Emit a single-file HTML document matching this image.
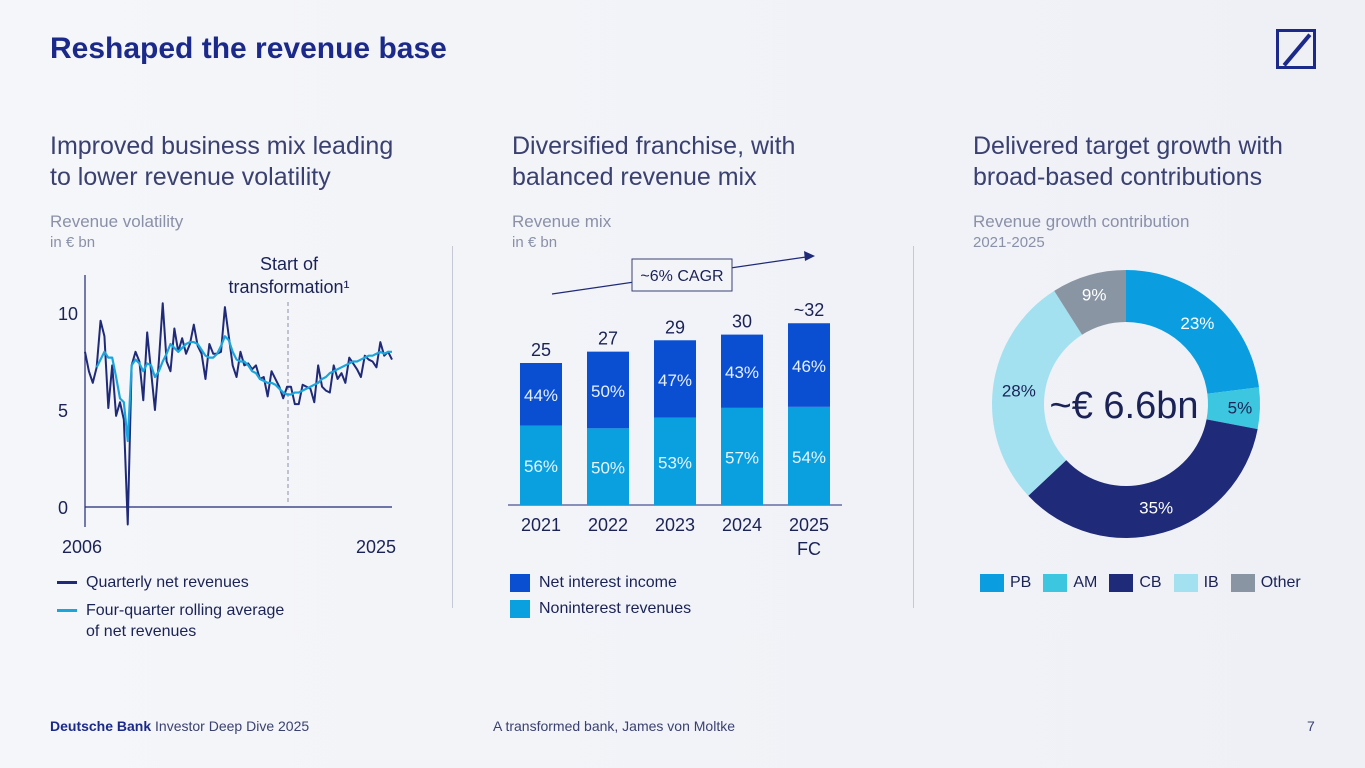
<!DOCTYPE html>
<html><head><meta charset="utf-8"><style>
*{margin:0;padding:0;box-sizing:border-box}
body{width:1365px;height:768px;overflow:hidden;background:linear-gradient(90deg,#f5f6f9,#eef0f6);font-family:"Liberation Sans",sans-serif;position:relative;color:#1b2356}
.a{position:absolute;white-space:nowrap}
.h2{font-size:25px;color:#3a4170;line-height:31px;font-weight:normal}
.sub{font-size:17px;color:#8a90a8;line-height:21px}
.sub small{font-size:15px;display:block}
.leg{font-size:16px;color:#1b2356}
</style></head><body>
<div class="a" style="left:50px;top:32px;font-size:30px;font-weight:bold;color:#1b2a8a">Reshaped the revenue base</div>
<div class="a" style="left:1276px;top:29px;width:40px;height:40px;border:3px solid #1b2a8a"><div style="position:absolute;left:16px;top:-2px;width:4px;height:40px;background:#1b2a8a;transform:rotate(40deg)"></div></div>

<div class="a h2" style="left:50px;top:131px">Improved business mix leading<br>to lower revenue volatility</div>
<div class="a sub" style="left:50px;top:211px">Revenue volatility<small>in € bn</small></div>
<div class="a h2" style="left:512px;top:131px">Diversified franchise, with<br>balanced revenue mix</div>
<div class="a sub" style="left:512px;top:211px">Revenue mix<small>in € bn</small></div>
<div class="a h2" style="left:973px;top:131px">Delivered target growth with<br>broad-based contributions</div>
<div class="a sub" style="left:973px;top:211px">Revenue growth contribution<small>2021-2025</small></div>
<div class="a" style="left:452px;top:246px;width:1px;height:362px;background:#c5c9d6"></div>
<div class="a" style="left:913px;top:246px;width:1px;height:362px;background:#c5c9d6"></div>

<svg class="a" style="left:0;top:0" width="1365" height="768">
<g id="line"></g>
<g id="bars"></g>
<g id="donut"></g>
</svg>

<div class="a leg" style="left:57px;top:574px"><span style="display:inline-block;width:20px;height:3px;background:#1f2a78;vertical-align:middle;margin-right:9px"></span>Quarterly net revenues</div>
<div class="a leg" style="left:57px;top:600px;line-height:21px"><span style="display:inline-block;width:20px;height:3px;background:#1aa6dc;vertical-align:middle;margin-right:9px"></span>Four-quarter rolling average<br><span style="padding-left:29px">of net revenues</span></div>
<div class="a leg" style="left:510px;top:574px"><span style="display:inline-block;width:20px;height:18px;background:#0a4fd1;vertical-align:middle;margin-right:9px"></span>Net interest income</div>
<div class="a leg" style="left:510px;top:600px"><span style="display:inline-block;width:20px;height:18px;background:#0aa0e0;vertical-align:middle;margin-right:9px"></span>Noninterest revenues</div>
<div class="a leg" style="left:980px;top:574px" id="dl"></div>

<div class="a" style="left:50px;top:718px;font-size:14px;color:#3a4170"><b style="color:#1b2a8a">Deutsche Bank</b> Investor Deep Dive 2025</div>
<div class="a" style="left:493px;top:718px;font-size:14px;color:#3a4170">A transformed bank, James von Moltke</div>
<div class="a" style="left:1307px;top:718px;font-size:14px;color:#3a4170">7</div>

<script>
const quarterly=[8.0,7.0,6.4,7.2,9.6,8.8,5.1,7.3,4.7,5.4,4.5,-0.9,7.3,8.0,7.5,5.5,9.0,7.0,5.0,7.5,10.5,7.5,7.0,9.2,8.0,8.7,7.9,8.4,9.4,8.3,7.9,6.6,8.4,7.9,7.9,8.0,10.3,8.8,7.3,6.7,8.0,7.3,7.4,7.1,7.3,6.6,6.7,5.7,7.0,6.6,6.2,5.6,6.2,6.2,5.3,5.3,6.3,6.2,6.1,5.4,7.3,6.2,6.0,5.9,7.3,6.6,6.9,6.4,7.7,7.4,7.1,6.7,7.8,7.6,7.5,7.2,8.5,7.8,8.0,7.6];
const rollingStartQuarter=3;
const rolling=[7.2,7.6,8.0,7.7,7.7,6.7,5.6,5.4,3.4,7.3,7.6,7.4,7.0,7.4,7.3,6.7,7.0,7.5,7.9,8.4,8.2,8.0,8.2,8.4,8.5,8.5,8.4,8.1,7.8,7.7,7.7,7.9,8.3,8.8,8.6,8.0,7.6,7.5,7.5,7.3,7.0,6.9,6.6,6.5,6.4,6.4,6.3,6.1,5.9,5.8,5.8,5.9,5.9,6.0,6.1,6.2,6.3,6.4,6.6,6.7,6.9,7.0,7.1,7.2,7.3,7.4,7.5,7.5,7.6,7.7,7.8,7.8,7.9,8.0,7.9,8.0,8.0];
const yTicks=[0,5,10];
const years=["2021","2022","2023","2024","2025"];
const totals=[25,27,29,30,32];
const totalLabels=["25","27","29","30","~32"];
const niiPct=[44,50,47,43,46];
const nonintPct=[56,50,53,57,54];
const segNames=["PB","AM","CB","IB","Other"];
const segPct=[23,5,35,28,9];
const segColors=["#0a9ee0","#3cc6e0","#1f2a78","#a3e1f1","#8a95a3"];
const NS="http://www.w3.org/2000/svg";
function mk(p,t,at,txt){const e=document.createElementNS(NS,t);for(const k in at)e.setAttribute(k,at[k]);if(txt!=null)e.textContent=txt;p.appendChild(e);return e;}
const L=document.getElementById('line');
const x0=85,x1=392,yS=v=>507-v*19.4;
const xS=i=>x0+(x1-x0)*i/(quarterly.length-1);
mk(L,'line',{x1:85,y1:275,x2:85,y2:527,stroke:'#1f2a78','stroke-width':1.2});
mk(L,'line',{x1:85,y1:507,x2:392,y2:507,stroke:'#1f2a78','stroke-width':1.2});
yTicks.forEach(t=>{const e=mk(L,'text',{x:58,y:yS(t)+7,'font-size':18,fill:'#1b2356'},String(t));

});
const a1=mk(L,'text',{x:62,y:553,'font-size':18,fill:'#1b2356'},'2006');
const a2=mk(L,'text',{x:356,y:553,'font-size':18,fill:'#1b2356'},'2025');
mk(L,'line',{x1:288,y1:302,x2:288,y2:503,stroke:'#8a90a8','stroke-dasharray':'4 3'});
const s1=mk(L,'text',{x:289,y:270,'font-size':18,fill:'#1b2356','text-anchor':'middle'},'Start of');
const s2=mk(L,'text',{x:289,y:293,'font-size':18,fill:'#1b2356','text-anchor':'middle'},'transformation¹');
const q=mk(L,'polyline',{points:quarterly.map((v,i)=>xS(i)+','+yS(v)).join(' '),fill:'none',stroke:'#1f2a78','stroke-width':2,'stroke-linejoin':'round'});

const r=mk(L,'polyline',{points:rolling.map((v,i)=>xS(i+rollingStartQuarter)+','+yS(v)).join(' '),fill:'none',stroke:'#1aa6dc','stroke-width':2.2,'stroke-linejoin':'round'});

const B=document.getElementById('bars');
const base=505,sc=5.68,bw=42,bx=i=>520+i*67;
mk(B,'line',{x1:508,y1:base,x2:842,y2:base,stroke:'#1f2a78','stroke-width':1});
years.forEach((y,i)=>{
 const h=totals[i]*sc,top=base-h,hn=h*nonintPct[i]/100;
 const r1=mk(B,'rect',{x:bx(i),y:base-hn,width:bw,height:hn,fill:'#0aa0e0'});
 
 const r2=mk(B,'rect',{x:bx(i),y:top,width:bw,height:h-hn,fill:'#0a4fd1'});
 
 const cx=bx(i)+bw/2;
 mk(B,'text',{x:cx,y:base-hn/2+7,'font-size':17,fill:'#e6f4ff','text-anchor':'middle'},nonintPct[i]+'%');
 mk(B,'text',{x:cx,y:top+(h-hn)/2+7,'font-size':17,fill:'#e6f0ff','text-anchor':'middle'},niiPct[i]+'%');
 const tl=mk(B,'text',{x:cx,y:top-7,'font-size':18,fill:'#1b2356','text-anchor':'middle'},totalLabels[i]);
 
 const xl=mk(B,'text',{x:cx,y:531,'font-size':18,fill:'#1b2356','text-anchor':'middle'},y);
 
});
mk(B,'text',{x:bx(4)+bw/2,y:555,'font-size':18,fill:'#1b2356','text-anchor':'middle'},'FC');
mk(B,'line',{x1:552,y1:294,x2:806,y2:257,stroke:'#1f2a78','stroke-width':1.2});
mk(B,'polygon',{points:'815,256 804,251 805,261',fill:'#1f2a78'});
mk(B,'rect',{x:632,y:259,width:100,height:32,fill:'#f3f4f8',stroke:'#3a4170','stroke-width':1});
const cg=mk(B,'text',{x:682,y:281,'font-size':16,fill:'#1b2356','text-anchor':'middle'},'~6% CAGR');

const D=document.getElementById('donut');
const cx=1126,cy=404,R=134,ri=82;
let acc=0;const tot=segPct.reduce((a,b)=>a+b,0);
const pt=(a,rr)=>[cx+rr*Math.sin(a),cy-rr*Math.cos(a)];
segPct.forEach((p,i)=>{
 const a0=acc/tot*2*Math.PI;acc+=p;const a1=acc/tot*2*Math.PI;const lg=(a1-a0)>Math.PI?1:0;
 const [ox0,oy0]=pt(a0,R),[ox1,oy1]=pt(a1,R),[ix1,iy1]=pt(a1,ri),[ix0,iy0]=pt(a0,ri);
 const s=mk(D,'path',{d:`M${ox0},${oy0}A${R},${R} 0 ${lg} 1 ${ox1},${oy1}L${ix1},${iy1}A${ri},${ri} 0 ${lg} 0 ${ix0},${iy0}Z`,fill:segColors[i]});
 
 const am=(a0+a1)/2,[lx,ly]=pt(am,(R+ri)/2+(p<10?6:0));
 const dark=(i==1||i==3);
 mk(D,'text',{x:lx,y:ly+6,'font-size':17,fill:dark?'#1b2356':'#ffffff','text-anchor':'middle'},p+'%');
});
const ct=mk(D,'text',{x:cx-2,y:cy+14,'font-size':38,fill:'#1b2356','text-anchor':'middle'},'~€ 6.6bn');

const dl=document.getElementById('dl');
segNames.forEach((n,i)=>{const s=document.createElement('span');


s.style.marginRight='12px';
s.innerHTML=`<span style="display:inline-block;width:24px;height:18px;background:${segColors[i]};vertical-align:middle;margin-right:6px"></span>${n}`;dl.appendChild(s);});
</script>
</body></html>
